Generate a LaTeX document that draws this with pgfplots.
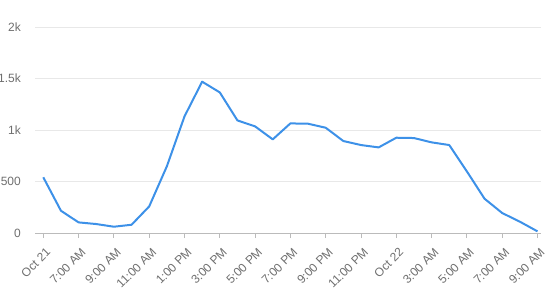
\documentclass[border=0pt]{standalone}
\usepackage{pgfplots}
\pgfplotsset{compat=1.18}
\usepackage{fontspec}
\setmainfont{Liberation Sans}
\definecolor{lineblue}{HTML}{3D91E8}
\definecolor{labgray}{HTML}{6E6E6E}
\definecolor{gridgray}{HTML}{E8E8E8}
\definecolor{axgray}{HTML}{BBBBBB}
\begin{document}
\begin{tikzpicture}[x=1bp,y=1bp]
\useasboundingbox (0,0) rectangle (551,300);
\begin{axis}[
  at={(35bp,67bp)}, anchor=south west,
  scale only axis, width=506bp, height=206bp,
  xmin=-0.47, xmax=28.2, ymin=0, ymax=2000,
  axis x line*=bottom, axis y line*=left,
  x axis line style={axgray, line width=0.8pt, -},
  y axis line style={draw=none},
  xtick={0,2,...,28},
  xticklabels={Oct 21,7:00 AM,9:00 AM,11:00 AM,1:00 PM,3:00 PM,5:00 PM,7:00 PM,9:00 PM,11:00 PM,Oct 22,3:00 AM,5:00 AM,7:00 AM,9:00 AM},
  x tick label style={xshift=2bp, yshift=-9bp, rotate=45, anchor=north east, font=\fontsize{12bp}{14bp}\selectfont, text=labgray, inner sep=0bp},
  tick align=outside, major tick length=5bp,
  x tick style={axgray, line width=0.8pt},
  ytick={0,500,1000,1500,2000},
  yticklabels={0,500,1k,1.5k,2k},
  ymajorgrids, grid style={gridgray, line width=0.8pt},
  y tick label style={font=\fontsize{12bp}{14bp}\selectfont, text=labgray, anchor=east, inner sep=0bp, xshift=-9bp},
  y tick style={draw=none},
  clip=false,
]
\addplot[lineblue, line width=2bp, line join=round] coordinates {
(0,541) (1,216) (2,103) (3,87) (4,61) (5,80) (6,258) (7,647) (8,1132) (9,1469)
(10,1365) (11,1093) (12,1035) (13,909) (14,1064) (15,1061) (16,1022) (17,893)
(18,854) (19,831) (20,925) (21,922) (22,880) (23,854) (24,598) (25,333) (26,194)
(27,110) (28,16)
};
\end{axis}
\end{tikzpicture}
\end{document}
